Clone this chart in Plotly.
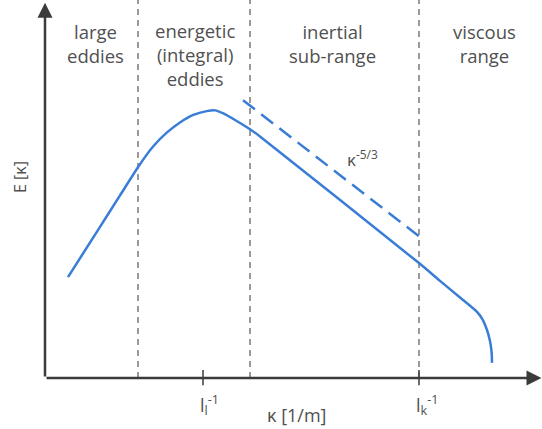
import plotly.graph_objects as go

# Energy spectrum (arbitrary units): wavenumber kappa vs E(kappa)
kappa = [4.63, 11.07, 15.09, 18.77, 21.79, 24.49, 27.16, 29.84, 32.54, 34.21, 35.88, 38.57, 41.25,
         43.26, 75.25, 79.48, 83.5, 86.92, 88.0, 88.93, 89.5, 89.74, 89.9, 89.94]
energy = [26.7, 40.0, 48.3, 55.9, 61.3, 64.9, 67.6, 69.6, 70.6, 70.8, 70.0, 68.0, 65.8,
          63.9, 30.4, 25.7, 21.3, 17.5, 15.6, 12.7, 10.0, 8.2, 6.0, 4.0]

# -5/3 reference slope line
ref_kappa = [39.84, 75.45]
ref_energy = [73.5, 37.3]

# Region boundaries
boundaries = [18.71, 41.25, 75.25]

# Tick positions and labels
tick_vals = [31.79, 75.25]
tick_text = ["l<sub>l</sub><sup>-1</sup>", "l<sub>k</sub><sup>-1</sup>"]

# Region labels
region_labels = ["large<br>eddies", "energetic<br>(integral)<br>eddies", "inertial<br>sub-range", "viscous<br>range"]
region_x = [10.06, 30.18, 57.75, 88.33]
region_y = [88.6, 85.7, 88.4, 88.4]

X_RANGE = [0, 100]
Y_RANGE = [0, 100]

TXT = "#505050"
BLUE = "#3a7dd6"
AX = "#3b3b3b"
FONT = "Open Sans"

fig = go.Figure()

for b in boundaries:
    fig.add_trace(go.Scatter(x=[b, b], y=Y_RANGE, mode="lines",
                             line=dict(color="#7a7a7a", width=1.5, dash="6px,5px"),
                             hoverinfo="skip", showlegend=False))

fig.add_trace(go.Scatter(x=kappa, y=energy, mode="lines",
                         line=dict(color=BLUE, width=2.5, shape="spline", smoothing=0.6),
                         showlegend=False))
fig.add_trace(go.Scatter(x=ref_kappa, y=ref_energy, mode="lines",
                         line=dict(color=BLUE, width=2.5, dash="15px,8px"),
                         showlegend=False))


def to_paper_x(v):
    return (v - X_RANGE[0]) / (X_RANGE[1] - X_RANGE[0])


shapes = []
for t in tick_vals:
    shapes.append(dict(type="line", xref="x", yref="paper", x0=t, x1=t, y0=0.021, y1=-0.019,
                       line=dict(color=AX, width=1.5)))

annotations = []
# axes with arrows
annotations.append(dict(x=99.9, y=0, ax=0, ay=0, xref="x", yref="y", axref="x", ayref="y",
                        text="", showarrow=True, arrowhead=2, arrowsize=1.2, arrowwidth=2.5,
                        arrowcolor=AX, standoff=0, startstandoff=0))
annotations.append(dict(x=0, y=99.3, ax=0, ay=0, xref="x", yref="y", axref="x", ayref="y",
                        text="", showarrow=True, arrowhead=2, arrowsize=1.2, arrowwidth=2.5,
                        arrowcolor=AX, standoff=0, startstandoff=0))

for txt, x, y in zip(region_labels, region_x, region_y):
    annotations.append(dict(x=x, y=y, xref="x", yref="y", text=txt, showarrow=False,
                            font=dict(family=FONT, size=18.5, color=TXT), align="center"))

annotations.append(dict(x=63.8, y=58.0, xref="x", yref="y", text="κ<sup>-5/3</sup>",
                        showarrow=False, font=dict(family=FONT, size=17, color=TXT)))

for t, txt in zip(tick_vals, tick_text):
    annotations.append(dict(x=to_paper_x(t), y=-0.072, xref="paper", yref="paper", text=txt,
                            showarrow=False, xanchor="left", yanchor="middle", xshift=-5,
                            font=dict(family=FONT, size=18, color=TXT)))

annotations.append(dict(x=0.507, y=-0.099, xref="paper", yref="paper", text="κ [1/m]",
                        showarrow=False, xanchor="center", yanchor="middle",
                        font=dict(family=FONT, size=18, color=TXT)))
annotations.append(dict(x=-0.05, y=0.532, xref="paper", yref="paper", text="E [κ]",
                        textangle=-90, showarrow=False, xanchor="center", yanchor="middle",
                        font=dict(family=FONT, size=16, color=TXT)))

fig.update_layout(
    width=542, height=429,
    margin=dict(l=45, r=0, t=0, b=51),
    plot_bgcolor="white", paper_bgcolor="white",
    xaxis=dict(range=X_RANGE, visible=False, fixedrange=True),
    yaxis=dict(range=Y_RANGE, visible=False, fixedrange=True),
    annotations=annotations,
    shapes=shapes,
    showlegend=False,
)

fig.write_html("out.html")
